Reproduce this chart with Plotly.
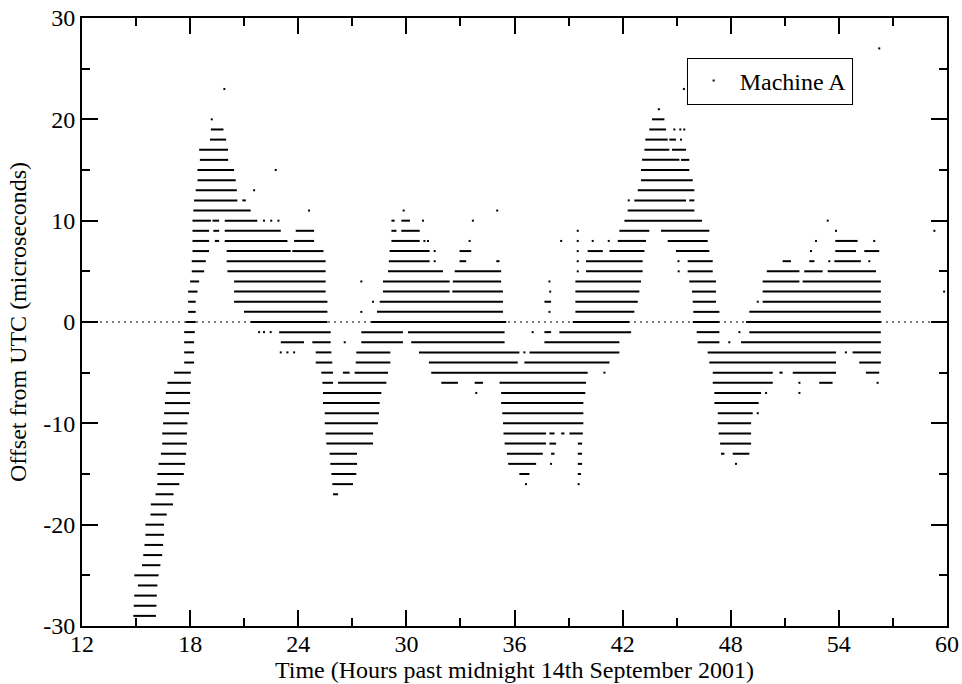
import plotly.graph_objects as go

# Clock offset of Machine A against UTC: the offset is quantised to whole
# microseconds, so each level is recorded as the time spans (hours past
# midnight, 14 Sep 2001) during which samples sat at that level.
levels = [21, 20, 19, 18, 17, 16, 15, 14, 13, 12, 11, 10, 9, 8, 7, 6, 5, 4, 3, 2, 1, 0,
          -1, -2, -3, -4, -5, -6, -7, -8, -9, -10, -11, -12, -13, -14, -15, -16, -17,
          -18, -19, -20, -21, -22, -23, -24, -25, -26, -27, -28, -29]

spans = [
    [(43.95, 44.07)],
    [(43.63, 44.32)],
    [(19.15, 19.85), (43.48, 44.41)],
    [(19.10, 20.00), (43.26, 44.50), (44.59, 44.96)],
    [(18.50, 20.10), (43.21, 44.59), (44.74, 45.52)],
    [(18.54, 20.11), (43.08, 45.15), (45.24, 45.70)],
    [(18.41, 20.44), (43.02, 45.70)],
    [(18.41, 20.53), (43.02, 45.89)],
    [(18.31, 20.59), (42.84, 45.98)],
    [(18.22, 20.62), (20.90, 21.09), (42.65, 45.52), (45.70, 45.98)],
    [(18.18, 21.36), (42.28, 45.98)],
    [(18.13, 19.15), (19.24, 19.61), (19.92, 21.73), (29.17, 29.35), (29.72, 30.20),
     (42.10, 46.40)],
    [(18.13, 19.05), (19.29, 19.61), (19.92, 23.03), (23.86, 24.88), (29.17, 29.45),
     (29.72, 30.74), (41.82, 43.48), (44.13, 46.81)],
    [(18.13, 19.05), (19.37, 19.61), (19.92, 23.40), (23.77, 24.88), (29.17, 30.74),
     (41.73, 43.30), (44.50, 46.72), (53.80, 55.04)],
    [(18.13, 19.05), (20.03, 23.58), (23.67, 25.40), (29.07, 31.29), (32.95, 33.60),
     (40.06, 40.90), (41.27, 43.21), (44.96, 46.81), (53.80, 54.95), (55.41, 56.24)],
    [(18.09, 18.87), (20.03, 25.52), (29.03, 31.29), (32.95, 33.32), (34.99, 35.17),
     (39.97, 43.11), (45.61, 47.00), (50.88, 51.34), (52.36, 52.64), (53.75, 55.22)],
    [(18.09, 18.78), (20.07, 25.52), (28.98, 32.03), (32.68, 35.26), (39.97, 43.11),
     (45.61, 47.00), (50.00, 51.81), (52.08, 53.10), (53.38, 56.06)],
    [(18.00, 18.50), (20.44, 25.52), (28.70, 32.40), (32.58, 35.26), (39.38, 43.02),
     (45.70, 47.18), (49.77, 51.81), (51.99, 56.33)],
    [(17.89, 18.41), (20.44, 25.52), (28.70, 32.40), (32.55, 35.36), (39.38, 42.93),
     (45.85, 47.18), (49.77, 56.33)],
    [(17.89, 18.31), (20.44, 25.62), (28.52, 35.36), (37.66, 38.03), (39.38, 42.84),
     (45.89, 47.18), (49.77, 56.33)],
    [(17.89, 18.31), (20.99, 25.62), (28.37, 35.36), (39.38, 42.65), (45.92, 47.37),
     (49.03, 56.33)],
    [(17.76, 18.31), (21.36, 25.62), (28.05, 35.54), (39.23, 42.37), (45.89, 47.37),
     (48.85, 56.33)],
    [(17.67, 18.26), (22.94, 25.80), (27.50, 29.81), (30.09, 35.45), (37.66, 38.03),
     (38.49, 42.47), (46.11, 47.37), (49.03, 56.33)],
    [(17.67, 18.22), (23.03, 24.32), (24.78, 25.80), (27.50, 29.81), (30.27, 35.45),
     (37.66, 41.82), (46.16, 47.37), (48.57, 56.33)],
    [(17.67, 18.22), (24.97, 25.84), (27.22, 29.11), (30.70, 36.27), (36.83, 41.82),
     (46.72, 53.84), (54.76, 56.33)],
    [(17.67, 18.22), (24.97, 25.89), (27.19, 29.11), (31.25, 36.18), (36.55, 41.27),
     (46.81, 53.84), (55.13, 56.33)],
    [(17.11, 18.04), (25.28, 25.93), (26.48, 26.85), (27.13, 28.98), (31.38, 40.06),
     (47.00, 50.33), (50.70, 50.88), (51.44, 53.84), (55.50, 56.24)],
    [(16.74, 18.04), (25.34, 25.93), (26.21, 28.89), (31.94, 32.86), (33.79, 34.25),
     (35.17, 39.97), (47.00, 50.33), (52.91, 53.65)],
    [(16.65, 18.00), (25.37, 28.61), (35.26, 39.93), (47.09, 49.68)],
    [(16.60, 18.00), (25.37, 28.52), (35.26, 39.82), (47.09, 49.55)],
    [(16.56, 17.94), (25.47, 28.48), (35.32, 39.82), (47.28, 49.22)],
    [(16.50, 17.85), (25.47, 28.42), (35.36, 39.82), (47.28, 49.13)],
    [(16.45, 17.82), (25.52, 28.15), (35.39, 37.75), (37.94, 38.22), (38.59, 38.77),
     (39.05, 39.79), (47.33, 49.13)],
    [(16.45, 17.82), (25.56, 28.15), (35.45, 37.75), (37.94, 38.31), (39.51, 39.75),
     (47.41, 49.13)],
    [(16.38, 17.78), (25.74, 27.26), (35.58, 37.57), (38.03, 38.22), (39.51, 39.75),
     (47.46, 47.65), (48.11, 49.03)],
    [(16.25, 17.72), (25.78, 27.26), (35.65, 37.20), (39.51, 39.75)],
    [(16.18, 17.65), (25.84, 27.22), (36.27, 36.83), (39.51, 39.69)],
    [(16.18, 17.40), (25.89, 27.04)],
    [(16.08, 17.08), (25.93, 26.21)],
    [(15.82, 17.05)],
    [(15.80, 16.70)],
    [(15.52, 16.55)],
    [(15.52, 16.55)],
    [(15.47, 16.50)],
    [(15.40, 16.45)],
    [(15.33, 16.35)],
    [(14.90, 16.25)],
    [(15.10, 16.18)],
    [(14.90, 16.15)],
    [(14.87, 16.13)],
    [(14.85, 16.10)],
]

# Isolated samples away from the runs above
dot_time = [56.24, 19.90, 45.40, 19.20, 44.87, 45.20, 45.42, 45.24, 22.75, 21.55,
            42.34, 24.60, 29.85, 35.04, 22.10, 22.50, 22.90, 30.92, 33.69, 53.38,
            39.51, 53.84, 59.30, 31.00, 31.20, 33.51, 38.59, 39.51, 40.34, 41.23,
            52.73, 55.96, 31.57, 39.51, 52.45, 31.57, 39.51, 45.10, 53.47, 55.69,
            39.51, 45.11, 27.50, 37.94, 37.98, 59.84, 28.15, 49.50, 27.50, 37.94,
            21.83, 22.10, 22.47, 37.01, 48.48, 26.58, 47.92, 23.03, 23.40, 23.77,
            36.55, 54.39, 40.99, 51.81, 56.15, 33.88, 49.96, 51.81, 49.50, 38.03,
            48.29, 36.64, 39.56]
dot_offset = [27, 23, 23, 20, 19, 19, 19, 18, 15, 13,
              12, 11, 11, 11, 10, 10, 10, 10, 10, 10,
              9, 9, 9, 8, 8, 8, 8, 8, 8, 8,
              8, 8, 7, 7, 7, 6, 6, 6, 6, 6,
              5, 5, 4, 4, 3, 3, 2, 2, 1, 1,
              -1, -1, -1, -1, -1, -2, -2, -3, -3, -3,
              -3, -3, -5, -6, -6, -7, -7, -7, -9, -14,
              -14, -16, -16]

x_ticks = [12, 18, 24, 30, 36, 42, 48, 54, 60]
x_ticktext = ["12", "18", "24", "30", "36", "42", "48", "54", "60"]
y_ticks = [-30, -20, -10, 0, 10, 20, 30]
y_ticktext = ["-30", "-20", "-10", "0", "10", "20", "30"]

seg_x, seg_y = [], []
for lev, runs in zip(levels, spans):
    for start, end in runs:
        seg_x += [start, end, None]
        seg_y += [lev, lev, None]

FONT = "Liberation Serif"

fig = go.Figure()
fig.add_trace(go.Scatter(
    x=seg_x, y=seg_y, mode="lines",
    line=dict(color="black", width=2),
    name="Machine A", legendgroup="a", showlegend=False, hoverinfo="skip",
))
fig.add_trace(go.Scatter(
    x=dot_time, y=dot_offset, mode="markers",
    marker=dict(color="black", size=2, symbol="square", line=dict(width=0)),
    name="Machine A", legendgroup="a", showlegend=True,
))

# dotted reference line at zero offset
fig.add_shape(type="line", xref="paper", x0=0, x1=1, yref="y", y0=0, y1=0,
              line=dict(color="black", width=1, dash="2px,4px"), layer="below")

axis_common = dict(
    showline=True, linecolor="black", linewidth=2, mirror="ticks",
    ticks="inside", ticklen=16, tickwidth=1.5, tickcolor="black",
    showgrid=False, zeroline=False, tickfont=dict(family=FONT, size=24, color="black"),
)

fig.update_xaxes(
    range=[12, 60], tickmode="array", tickvals=x_ticks, ticktext=x_ticktext,
    ticklabelstandoff=-5,
    minor=dict(tickmode="linear", tick0=12, dtick=3, ticks="inside", ticklen=8,
               tickwidth=1.5, tickcolor="black", showgrid=False),
    title=dict(text="Time (Hours past midnight 14th September 2001)",
               font=dict(family=FONT, size=24, color="black"), standoff=2),
    **axis_common,
)
fig.update_yaxes(
    range=[-30, 30], tickmode="array", tickvals=y_ticks, ticktext=y_ticktext,
    minor=dict(tickmode="linear", tick0=-30, dtick=5, ticks="inside", ticklen=8,
               tickwidth=1.5, tickcolor="black", showgrid=False),
    title=dict(text="Offset from UTC (microseconds)",
               font=dict(family=FONT, size=24, color="black"), standoff=10),
    **axis_common,
)

fig.update_layout(
    width=962, height=684,
    margin=dict(l=82, r=15, t=18, b=58, autoexpand=False),
    plot_bgcolor="white", paper_bgcolor="white",
    font=dict(family=FONT, size=24, color="black"),
    legend=dict(x=0.699, y=0.935, xanchor="left", yanchor="top",
                itemwidth=42,
                bgcolor="white", bordercolor="black", borderwidth=1,
                font=dict(family=FONT, size=24, color="black")),
)

fig.write_html("out.html")
